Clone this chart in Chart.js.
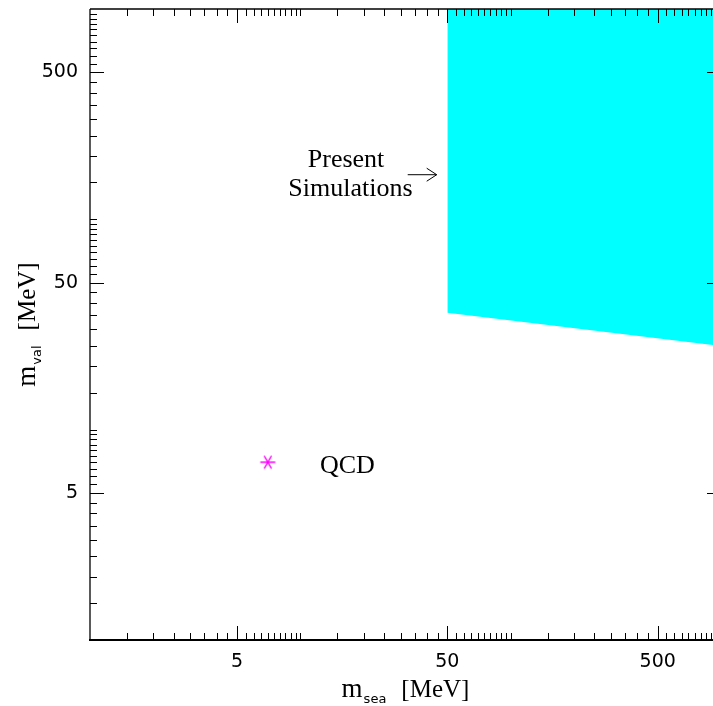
<!DOCTYPE html>
<html>
<head>
<meta charset="utf-8">
<script src="https://cdn.jsdelivr.net/npm/chart.js@4"></script>
<style>
  html, body { margin: 0; padding: 0; background: #fff; overflow: hidden; width: 713px; height: 706px; }
  #wrap { position: absolute; left: 0; top: 0; width: 730px; height: 706px; }
</style>
</head>
<body>
<div id="wrap"><canvas id="c" width="730" height="706"></canvas></div>
<script>
// Axis ranges (MeV)
const xRange = [1, 1000];
const yRange = [1, 1000];
const xLabelTicks = [5, 50, 500];
const yLabelTicks = [5, 50, 500];

// Lower edge of the region reached by present simulations
const simEdgeSea = [50, 1000];
const simEdgeVal = [36, 25];

// Physical point
const qcdSea = [7];
const qcdVal = [7];

// Text annotations, placed in data coordinates
const noteText  = ['Present', 'Simulations', 'QCD'];
const noteSea   = [16.5, 17.3, 12.4];
const noteVal   = [178, 128.5, 6.19];
const noteAlign = ['center', 'center', 'left'];
const arrowSea  = [32.4, 44.5];
const arrowVal  = [163, 163];

// Minor ticks every 0.5 x 10^k inside each decade
function minorTicks(lo, hi) {
  const out = [];
  for (let k = Math.floor(Math.log10(lo)); 10 ** k < hi; k++) {
    for (let j = 3; j <= 20; j++) {
      const v = +(0.5 * j * 10 ** k).toPrecision(6);
      if (v > lo && v < hi && !out.includes(v)) out.push(v);
    }
  }
  return out;
}

// Six-armed asterisk marker
function asterisk(color) {
  const c = document.createElement('canvas');
  c.width = 18; c.height = 16;
  const g = c.getContext('2d');
  g.strokeStyle = color; g.lineWidth = 1.3;
  const cx = 9, cy = 8, r = 7.3, a = Math.PI / 3;
  g.beginPath();
  g.moveTo(cx - 7.5, cy); g.lineTo(cx + 7.5, cy);
  g.moveTo(cx - r * Math.cos(a), cy - r * Math.sin(a)); g.lineTo(cx + r * Math.cos(a), cy + r * Math.sin(a));
  g.moveTo(cx + r * Math.cos(a), cy - r * Math.sin(a)); g.lineTo(cx - r * Math.cos(a), cy + r * Math.sin(a));
  g.stroke();
  return c;
}

const serif = '"Liberation Serif", "Times New Roman", serif';
const sans = '"DejaVu Sans", sans-serif';

function drawTitle(ctx, main, sub, unit) {
  ctx.font = '27px ' + serif;
  const mW = ctx.measureText(main).width;
  ctx.font = '13px ' + sans;
  const sW = ctx.measureText(sub).width;
  ctx.font = '25px ' + serif;
  const uW = ctx.measureText(unit).width;
  const gap = 15;
  let x0 = -(mW + 1 + sW + gap + uW) / 2;
  ctx.textAlign = 'left';
  ctx.textBaseline = 'alphabetic';
  ctx.font = '27px ' + serif;
  ctx.fillText(main, x0, 0);
  ctx.font = '13px ' + sans;
  ctx.fillText(sub, x0 + mW + 1, 6);
  ctx.font = '25px ' + serif;
  ctx.fillText(unit, x0 + mW + 1 + sW + gap, 0);
}

const framePlugin = {
  id: 'frame',
  afterDatasetsDraw(chart) {
    const { ctx, chartArea: a, scales: { x, y } } = chart;
    const seg = (x1, y1, x2, y2) => { ctx.beginPath(); ctx.moveTo(x1, y1); ctx.lineTo(x2, y2); ctx.stroke(); };
    ctx.save();
    ctx.strokeStyle = '#000';
    ctx.fillStyle = '#000';

    // inward tick marks on all four sides
    ctx.lineWidth = 1;
    minorTicks(xRange[0], xRange[1]).forEach(v => {
      const p = Math.round(x.getPixelForValue(v)) + 0.5;
      const L = xLabelTicks.includes(v) ? 14 : 7;
      seg(p, a.bottom, p, a.bottom - L);
      seg(p, a.top, p, a.top + L);
    });
    minorTicks(yRange[0], yRange[1]).forEach(v => {
      const p = Math.round(y.getPixelForValue(v)) + 0.5;
      const L = yLabelTicks.includes(v) ? 14 : 7;
      seg(a.left, p, a.left + L, p);
      seg(a.right, p, a.right - L, p);
    });

    // frame
    ctx.lineWidth = 1.5; seg(a.left, a.top, a.right, a.top);
    ctx.lineWidth = 1.3; seg(a.left, a.top, a.left, a.bottom);
    ctx.lineWidth = 1.3; seg(a.right, a.top, a.right, a.bottom);
    ctx.lineWidth = 2.2; seg(a.left - 1, a.bottom, a.right, a.bottom);

    // annotations
    ctx.font = '26px ' + serif;
    ctx.textBaseline = 'alphabetic';
    noteText.forEach((t, i) => {
      ctx.textAlign = noteAlign[i];
      ctx.fillText(t, x.getPixelForValue(noteSea[i]), y.getPixelForValue(noteVal[i]));
    });
    const ax1 = x.getPixelForValue(arrowSea[0]), ay1 = y.getPixelForValue(arrowVal[0]);
    const ax2 = x.getPixelForValue(arrowSea[1]), ay2 = y.getPixelForValue(arrowVal[1]);
    ctx.lineWidth = 1;
    seg(ax1, ay1, ax2, ay2);
    seg(ax2 - 10, ay2 - 6.5, ax2, ay2);
    seg(ax2 - 10, ay2 + 6.5, ax2, ay2);

    // axis titles
    ctx.save();
    ctx.translate((a.left + a.right) / 2, a.bottom + 57);
    drawTitle(ctx, 'm', 'sea', '[MeV]');
    ctx.restore();
    ctx.save();
    ctx.translate(35, (a.top + a.bottom) / 2);
    ctx.rotate(-Math.PI / 2);
    drawTitle(ctx, 'm', 'val', '[MeV]');
    ctx.restore();

    ctx.restore();
  }
};

const noPad = s => { s.paddingTop = 0; s.paddingBottom = 0; s.paddingLeft = 0; s.paddingRight = 0; };

new Chart(document.getElementById('c'), {
  data: {
    datasets: [
      {
        type: 'line',
        label: 'Present Simulations',
        data: simEdgeSea.map((s, i) => ({ x: s, y: simEdgeVal[i] })),
        borderWidth: 0,
        borderColor: 'rgba(0,0,0,0)',
        backgroundColor: '#00ffff',
        pointRadius: 0,
        fill: 'end',
        tension: 0
      },
      {
        type: 'scatter',
        label: 'QCD',
        data: qcdSea.map((s, i) => ({ x: s, y: qcdVal[i] })),
        pointStyle: asterisk('#ff00ff'),
        pointRadius: 8,
        borderColor: '#ff00ff',
        backgroundColor: '#ff00ff'
      }
    ]
  },
  options: {
    responsive: false,
    animation: false,
    devicePixelRatio: 1,
    layout: { padding: { left: 0, top: 7, right: 8.5, bottom: 0 } },
    plugins: { legend: { display: false }, tooltip: { enabled: false } },
    scales: {
      x: {
        type: 'logarithmic', position: 'bottom',
        min: xRange[0], max: xRange[1],
        grid: { display: false, drawTicks: false },
        border: { display: false },
        afterBuildTicks: s => { s.ticks = xLabelTicks.map(v => ({ value: v })); },
        afterFit: s => { s.height = 66; noPad(s); },
        ticks: {
          autoSkip: false, maxRotation: 0, padding: 11, color: '#000',
          font: { family: sans, size: 19 },
          callback: v => String(v)
        }
      },
      y: {
        type: 'logarithmic', position: 'left',
        min: yRange[0], max: yRange[1],
        grid: { display: false, drawTicks: false },
        border: { display: false },
        afterBuildTicks: s => { s.ticks = yLabelTicks.map(v => ({ value: v })); },
        afterFit: s => { s.width = 90; noPad(s); },
        ticks: {
          autoSkip: false, padding: 12, color: '#000',
          font: { family: sans, size: 19 },
          callback: v => String(v)
        }
      }
    }
  },
  plugins: [framePlugin]
});
</script>
</body>
</html>
